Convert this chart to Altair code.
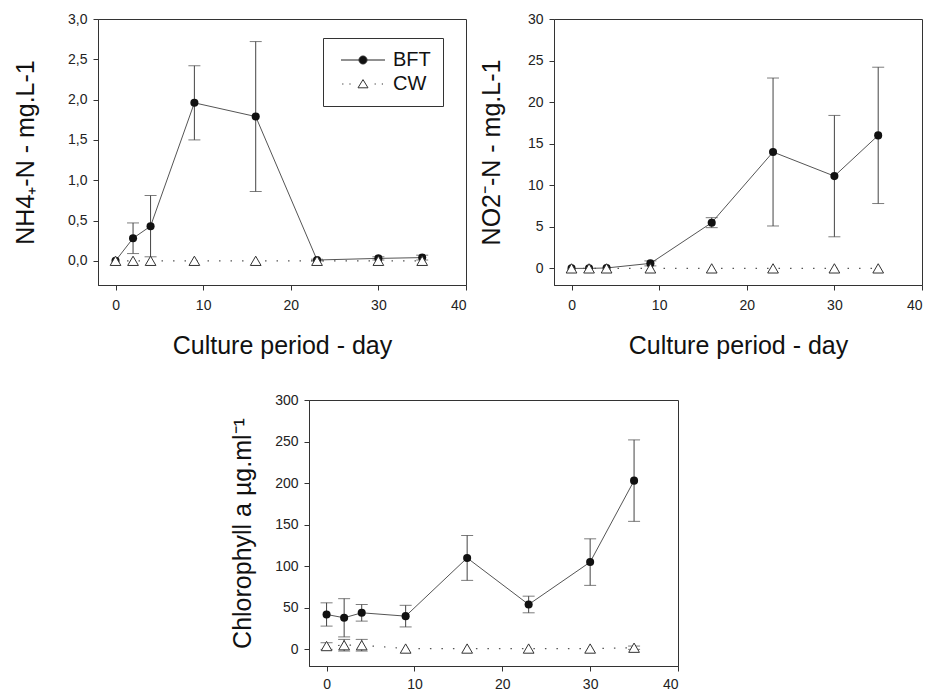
import altair as alt
import pandas as pd

FONT = "Liberation Sans"

days = [0, 2, 4, 9, 16, 23, 30, 35]

nh4_bft = [0.0, 0.28, 0.43, 1.96, 1.79, 0.01, 0.03, 0.04]
nh4_bft_sd = [0.0, 0.19, 0.38, 0.46, 0.93, 0.01, 0.02, 0.03]
nh4_cw = [0.0, 0.0, 0.0, 0.0, 0.0, 0.0, 0.0, 0.0]
nh4_cw_sd = [0.0, 0.0, 0.0, 0.0, 0.0, 0.0, 0.0, 0.0]

no2_bft = [0.0, 0.0, 0.05, 0.6, 5.5, 14.0, 11.1, 16.0]
no2_bft_sd = [0.0, 0.0, 0.0, 0.3, 0.6, 8.9, 7.3, 8.2]
no2_cw = [0.0, 0.0, 0.0, 0.0, 0.0, 0.0, 0.0, 0.0]
no2_cw_sd = [0.0, 0.0, 0.0, 0.0, 0.0, 0.0, 0.0, 0.0]

chl_bft = [42, 38, 44, 40, 110, 54, 105, 203]
chl_bft_sd = [14, 23, 10, 13, 27, 10, 28, 49]
chl_cw = [4, 5, 5, 1, 1, 1, 1, 2]
chl_cw_sd = [4, 7, 7, 0, 0, 0, 0, 2]

x_ticks = [0, 10, 20, 30, 40]
series_names = ["BFT", "CW"]

BFT_PATH = ("M-5.5,0L-1,0M1,0L5.5,0M-1,0A1,1 0 1,0 1,0A1,1 0 1,0 -1,0Z")
CW_PATH = ("M-5.2,0L-4.9,0M-3.4,0L-3.1,0M2.9,0L3.2,0M4.7,0L5,0"
           "M0,-1.1L1.25,0.95L-1.25,0.95Z")


def build_df(bft, bft_sd, cw, cw_sd):
    rows = []
    for name, vals, sds in (("BFT", bft, bft_sd), ("CW", cw, cw_sd)):
        for d, v, s in zip(days, vals, sds):
            rows.append(dict(day=d, val=v, lo=v - s, hi=v + s,
                             series=name, has_err=s > 0))
    return pd.DataFrame(rows)


def panel(df, ydom, yticks, ytitle, label_expr, xtitle, legend, w, h,
          xlabel_size, xlabel_pad, ytitle_pad):
    xs = alt.Scale(domain=[-2, 40], nice=False, zero=False)
    ys = alt.Scale(domain=ydom, nice=False, zero=False)
    xaxis = alt.Axis(values=x_ticks, title=xtitle, titleFontSize=25,
                     titlePadding=21, labelFontSize=xlabel_size,
                     labelPadding=xlabel_pad)
    yaxis = alt.Axis(values=yticks, title=ytitle, labelExpr=label_expr,
                     titleFontSize=25, titlePadding=ytitle_pad,
                     labelFontSize=14, labelPadding=6)

    def X(f="day"):
        return alt.X(f + ":Q", scale=xs, axis=xaxis)

    def Y(f):
        return alt.Y(f + ":Q", scale=ys, axis=yaxis)

    base = alt.Chart(df)
    bft = base.transform_filter(alt.datum.series == "BFT")
    cw = base.transform_filter(alt.datum.series == "CW")
    err = base.transform_filter(alt.datum.has_err)

    cw_line = cw.mark_line(color="#555", strokeWidth=1.2,
                           strokeDash=[1.5, 10]).encode(x=X(), y=Y("val"))
    bft_line = bft.mark_line(color="#555", strokeWidth=1).encode(
        x=X(), y=Y("val"))
    err_rule = err.mark_rule(color="#444", strokeWidth=1).encode(
        x=X(), y=Y("lo"), y2="hi:Q")
    err_lo = err.mark_tick(color="#444", orient="horizontal", size=12,
                           thickness=1).encode(x=X(), y=Y("lo"))
    err_hi = err.mark_tick(color="#444", orient="horizontal", size=12,
                           thickness=1).encode(x=X(), y=Y("hi"))
    bft_pts = bft.mark_point(shape="circle", filled=True, color="#111",
                             size=65, opacity=1).encode(x=X(), y=Y("val"))
    cw_pts = cw.mark_point(shape="triangle-up", filled=True, fill="white",
                           stroke="#333", strokeWidth=1, size=115,
                           opacity=1).encode(x=X(), y=Y("val"))
    layers = [cw_line, bft_line, err_rule, err_lo, err_hi, bft_pts, cw_pts]
    if legend:
        leg = base.mark_point(filled=False, strokeWidth=1,
                              opacity=0, size=64).encode(
            x=X(), y=Y("val"),
            shape=alt.Shape("series:N",
                            scale=alt.Scale(domain=series_names,
                                            range=[BFT_PATH, CW_PATH]),
                            legend=alt.Legend(
                                title=None, orient="none", legendX=225,
                                legendY=19, strokeColor="#333",
                                padding=12, labelFontSize=20,
                                labelFont=FONT, labelColor="#111",
                                labelOffset=20, symbolOffset=18,
                                symbolOpacity=1,
                                symbolStrokeColor="#222",
                                symbolStrokeWidth=1, rowPadding=4,
                                symbolSize=64)),
            fill=alt.Fill("series:N",
                          scale=alt.Scale(domain=series_names,
                                          range=["#111", "white"]),
                          legend=None),
            stroke=alt.Stroke("series:N",
                              scale=alt.Scale(domain=series_names,
                                              range=["#222", "#333"]),
                              legend=None),
        )
        layers.append(leg)
    return alt.layer(*layers).properties(width=w, height=h)


nh4_df = build_df(nh4_bft, nh4_bft_sd, nh4_cw, nh4_cw_sd)
no2_df = build_df(no2_bft, no2_bft_sd, no2_cw, no2_cw_sd)
chl_df = build_df(chl_bft, chl_bft_sd, chl_cw, chl_cw_sd)

comma = "replace(format(datum.value, '.1f'), '.', ',')"
plain = "format(datum.value, 'd')"

p1 = panel(nh4_df, [-0.3, 3.0], [0, 0.5, 1.0, 1.5, 2.0, 2.5, 3.0],
           "NH4\u208a-N - mg.L-1", comma, "Culture period - day", True,
           368, 266, 14, 8, 29)
p2 = panel(no2_df, [-2, 30], [0, 5, 10, 15, 20, 25, 30],
           "NO2\u207b-N - mg.L-1", plain, "Culture period - day", False,
           368, 266, 14, 8, 23)
p3 = panel(chl_df, [-20, 300], [0, 50, 100, 150, 200, 250, 300],
           "Chlorophyll a \u00b5g.ml\u207b\u00b9", plain, None, False,
           369, 266, 14, 6, 19)

spacer = alt.Chart(pd.DataFrame({"s": [0]})).mark_point(opacity=0).encode(
    x=alt.X("s:Q", axis=None), y=alt.Y("s:Q", axis=None)
).properties(width=131, height=10,
             view=alt.ViewBackground(stroke="transparent"))

top = alt.hconcat(p1, p2, spacing=11)
bottom = alt.hconcat(spacer, p3, spacing=0)
chart = alt.vconcat(top, bottom, spacing=33).properties(
    padding={"left": 5, "top": 3, "right": 0, "bottom": 0}
).configure_view(stroke="#333", strokeWidth=1).configure_axis(
    grid=False, domainColor="#333", tickColor="#333", tickSize=5,
    labelFont=FONT, titleFont=FONT, labelColor="#222", titleColor="#111",
    titleFontWeight="normal"
).configure_legend(labelFont=FONT)

chart.save("out.html", embed_options={"renderer": "svg", "actions": False})
